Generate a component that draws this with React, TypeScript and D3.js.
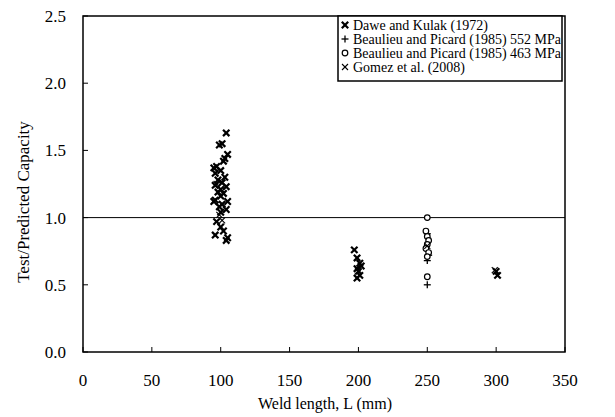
import * as React from "react";
import * as d3 from "d3";

// Dawe and Kulak (1972) - bold crosses
const daweL = [104, 101, 99, 105, 103, 102, 97, 95, 100, 96, 103, 98, 101, 96, 104, 100, 98, 102, 100, 96, 105, 101, 99, 104, 100, 95, 97, 100, 96, 102, 105, 104, 197, 199, 201, 202, 199, 200, 201, 199, 300, 301];
const daweR = [1.63, 1.55, 1.54, 1.47, 1.44, 1.42, 1.38, 1.37, 1.35, 1.33, 1.30, 1.28, 1.26, 1.24, 1.23, 1.21, 1.19, 1.18, 1.16, 1.13, 1.12, 1.10, 1.08, 1.06, 1.04, 1.12, 0.97, 0.93, 0.87, 0.90, 0.85, 0.83, 0.76, 0.70, 0.66, 0.64, 0.62, 0.60, 0.57, 0.55, 0.60, 0.57];

// Beaulieu and Picard (1985) 552 MPa - plus
const bp552L = [250, 251, 250, 250];
const bp552R = [0.88, 0.72, 0.68, 0.50];

// Beaulieu and Picard (1985) 463 MPa - circles
const bp463L = [250, 249, 250, 251, 250, 249, 251, 250, 250];
const bp463R = [1.00, 0.90, 0.86, 0.83, 0.80, 0.77, 0.74, 0.71, 0.56];

// Gomez et al. (2008) - thin crosses
const gomezL = [99, 101, 97, 250, 299];
const gomezR = [1.02, 0.98, 1.25, 0.79, 0.61];

const xTicks = [0, 50, 100, 150, 200, 250, 300, 350];
const yTicks = [0.0, 0.5, 1.0, 1.5, 2.0, 2.5];
const legendLabels = [
  "Dawe and Kulak (1972)",
  "Beaulieu and Picard (1985) 552 MPa",
  "Beaulieu and Picard (1985) 463 MPa",
  "Gomez et al. (2008)",
];

const W = 615;
const H = 417;
const left = 83, right = 565, top = 16, bottom = 352;
const font = "'Liberation Serif', 'Times New Roman', serif";

function Cross({ x, y, s, w }: { x: number; y: number; s: number; w: number }) {
  return (
    <g stroke="#000" strokeWidth={w}>
      <line x1={x - s} y1={y - s} x2={x + s} y2={y + s} />
      <line x1={x - s} y1={y + s} x2={x + s} y2={y - s} />
    </g>
  );
}

function Plus({ x, y }: { x: number; y: number }) {
  return (
    <g stroke="#000" strokeWidth={1.3}>
      <line x1={x - 3.5} y1={y} x2={x + 3.5} y2={y} />
      <line x1={x} y1={y - 3.5} x2={x} y2={y + 3.5} />
    </g>
  );
}

function Circ({ x, y }: { x: number; y: number }) {
  return <circle cx={x} cy={y} r={2.8} fill="#fff" stroke="#000" strokeWidth={1.2} />;
}

export default function App() {
  const x = d3.scaleLinear().domain([0, 350]).range([left, right]);
  const y = d3.scaleLinear().domain([0, 2.5]).range([bottom, top]);

  const markers = [
    (px: number, py: number) => <Cross x={px} y={py} s={3.2} w={2.2} />,
    (px: number, py: number) => <Plus x={px} y={py} />,
    (px: number, py: number) => <Circ x={px} y={py} />,
    (px: number, py: number) => <Cross x={px} y={py} s={3} w={1.1} />,
  ];

  const legX = 338, legY = 16, legW = 224, legH = 65, rowH = 14;

  return (
    <svg width={W} height={H} style={{ position: "absolute", left: 0, top: 0, background: "#fff" }} fontFamily={font}>
      <rect x={0} y={0} width={W} height={H} fill="#fff" />
      {/* y=1.0 reference line */}
      <line x1={left} x2={right} y1={y(1)} y2={y(1)} stroke="#000" strokeWidth={1} />

      {/* ticks */}
      {yTicks.map((t) => (
        <g key={"y" + t}>
          <line x1={left} x2={left + 5} y1={y(t)} y2={y(t)} stroke="#000" />
          <text x={left - 17} y={y(t) + 6} textAnchor="end" fontSize={17}>{t.toFixed(1)}</text>
        </g>
      ))}
      {xTicks.map((t) => (
        <g key={"x" + t}>
          <line x1={x(t)} x2={x(t)} y1={bottom} y2={bottom - 5} stroke="#000" />
          <text x={x(t)} y={bottom + 34} textAnchor="middle" fontSize={17}>{t}</text>
        </g>
      ))}

      {/* data */}
      {daweL.map((d, i) => <g key={"d" + i}>{markers[0](x(d), y(daweR[i]))}</g>)}
      {bp552L.map((d, i) => <g key={"p" + i}>{markers[1](x(d), y(bp552R[i]))}</g>)}
      {bp463L.map((d, i) => <g key={"c" + i}>{markers[2](x(d), y(bp463R[i]))}</g>)}
      {gomezL.map((d, i) => <g key={"g" + i}>{markers[3](x(d), y(gomezR[i]))}</g>)}

      {/* frame */}
      <rect x={left} y={top} width={right - left} height={bottom - top} fill="none" stroke="#000" strokeWidth={1.5} />

      {/* legend */}
      <rect x={legX} y={legY} width={legW} height={legH} fill="#fff" stroke="#000" strokeWidth={1.5} />
      {legendLabels.map((l, i) => (
        <g key={l}>
          {markers[i](legX + 7, legY + 9 + i * rowH)}
          <text x={legX + 15} y={legY + 14 + i * rowH} fontSize={14}>{l}</text>
        </g>
      ))}

      {/* axis titles */}
      <text x={(left + right) / 2 + 1} y={409} textAnchor="middle" fontSize={16}>Weld length, L (mm)</text>
      <text transform={`translate(29, ${(top + bottom) / 2 + 18}) rotate(-90)`} textAnchor="middle" fontSize={17}>Test/Predicted Capacity</text>
    </svg>
  );
}
